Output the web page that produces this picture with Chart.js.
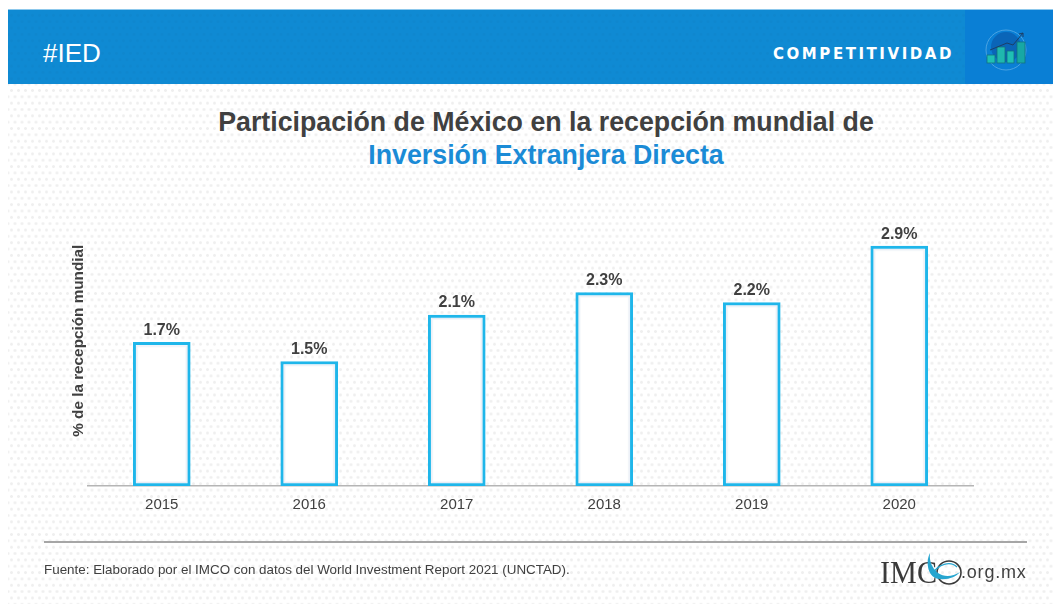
<!DOCTYPE html>
<html lang="es">
<head>
<meta charset="utf-8">
<script src="https://cdn.jsdelivr.net/npm/chart.js@4"></script>
<style>
html,body{margin:0;padding:0;background:#fff;width:1053px;height:604px;overflow:hidden;font-family:"Liberation Sans",Arial,sans-serif}
#bg{position:absolute;left:8px;top:9px;width:1045px;height:595px;background-color:#fff;
background-image:radial-gradient(circle,#efefef 1.1px,transparent 1.7px),radial-gradient(circle,#efefef 1.1px,transparent 1.7px);
background-size:7px 12.7px;background-position:0 -1px,3.5px 5.3px}
#hdr{position:absolute;left:8px;top:9px;width:1045px;height:75px;background:#0f8ad3;border-top:1px solid #8cc8ec;box-sizing:border-box;
background-image:radial-gradient(circle,rgba(0,0,0,.025) 1.1px,transparent 1.7px),radial-gradient(circle,rgba(0,0,0,.025) 1.1px,transparent 1.7px);
background-size:7px 12.7px;background-position:0 -1px,3.5px 5.3px}
#blk{position:absolute;left:965px;top:10px;width:88px;height:74px;background:#0a7fd5}
.t{position:absolute;white-space:nowrap}
#tag{left:43px;top:38px;font-size:26px;line-height:30px;color:#fff}
#comp{left:773px;top:44px;font:700 15px/20px "DejaVu Sans",sans-serif;letter-spacing:2.55px;color:#fff}
#t1,#t2{left:19.5px;width:1053px;text-align:center;font-weight:700;font-size:26.75px;line-height:32px}
#t1{top:106px;color:#404040}
#t2{top:139px;color:#1b8bd6}
#src{left:44px;top:562px;font-size:13.4px;line-height:16px;color:#404040}
#rule{position:absolute;left:44px;top:541px;width:983px;height:2px;background:#a6a6a6}
#chart{position:absolute;left:0;top:0}
#icon{position:absolute;left:983px;top:28px}
#logo{position:absolute;left:878px;top:552px}
</style>
</head>
<body>
<div id="bg"></div>
<div id="hdr"></div>
<div id="blk"></div>
<div class="t" id="tag">#IED</div>
<div class="t" id="comp">COMPETITIVIDAD</div>
<svg id="icon" width="46" height="46" viewBox="0 0 46 46">
<circle cx="23" cy="22" r="20" fill="none" stroke="#4aa3e2" stroke-width="1"/>
<circle cx="23" cy="19" r="15" fill="#0a65b8"/>
<g stroke="#13707f" stroke-width=".8">
<rect x="4" y="27" width="8" height="8" fill="#1fc0b4"/><rect x="14" y="19" width="8" height="16" fill="#1fb8ae"/>
<rect x="24" y="23" width="7" height="12" fill="#1fc0b4"/><rect x="34" y="14" width="8" height="21" fill="#17a8a4"/>
</g>
<path d="M7 22 L24 15 L30 17 L40 5 M36 6 L40 5 L40 9" fill="none" stroke="#1d3f66" stroke-width="1"/>
</svg>
<div class="t" id="t1">Participación de México en la recepción mundial de</div>
<div class="t" id="t2">Inversión Extranjera Directa</div>
<canvas id="chart" width="1053" height="604"></canvas>
<div id="rule"></div>
<div class="t" id="src">Fuente: Elaborado por el IMCO con datos del World Investment Report 2021 (UNCTAD).</div>
<svg id="logo" width="160" height="40" viewBox="0 0 160 40">
<text x="2" y="31" font-family="Liberation Serif" font-size="32" fill="#3a3a3a" textLength="57" lengthAdjust="spacingAndGlyphs">IMC</text>
<ellipse cx="71" cy="20.5" rx="12" ry="11.5" fill="none" stroke="#3a3a3a" stroke-width="1.6"/>
<path d="M52 1 C47 10 50 27 62 27 C70 28 78 25 82 20 C74 25 66 25 60 21 C54 16 51 9 52 1Z" fill="#26a5cf"/>
<path d="M55 21 C60 13 72 8 79 15" fill="none" stroke="#26a5cf" stroke-width="1.3"/>
<text x="83" y="26" font-family="Liberation Sans" font-size="18" letter-spacing=".8" fill="#404040">.org.mx</text>
</svg>
<script>
const categories = ["2015", "2016", "2017", "2018", "2019", "2020"];
const shareValues = [1.73, 1.5, 2.06, 2.33, 2.21, 2.89];
const yAxisTitle = "% de la recepción mundial";

const barDetails = {
  id: "barDetails",
  afterDatasetsDraw(chart) {
    const ctx = chart.ctx;
    const meta = chart.getDatasetMeta(0);
    ctx.save();
    meta.data.forEach((bar) => {
      const left = bar.x - bar.width / 2 + 3;
      const top = bar.y + 3;
      const w = bar.width - 6;
      const h = bar.base - bar.y - 6;
      ctx.strokeStyle = "rgba(150,175,215,0.22)";
      ctx.lineWidth = 1;
      ctx.strokeRect(left + 0.5, top + 0.5, w - 1, h - 1);
      ctx.strokeStyle = "rgba(150,175,215,0.09)";
      ctx.strokeRect(left + 1.5, top + 1.5, w - 3, h - 3);
    });
    ctx.font = "700 16px 'Liberation Sans'";
    ctx.fillStyle = "#404040";
    ctx.textAlign = "center";
    ctx.textBaseline = "middle";
    meta.data.forEach((bar, i) => {
      ctx.fillText(shareValues[i].toFixed(1) + "%", bar.x, bar.y - 12);
    });
    ctx.restore();
  }
};

new Chart(document.getElementById("chart"), {
  type: "bar",
  data: {
    labels: categories,
    datasets: [{
      data: shareValues,
      backgroundColor: "#ffffff",
      borderColor: "#1fb6ea",
      borderWidth: 3,
      borderSkipped: false,
      barThickness: 57
    }]
  },
  plugins: [barDetails],
  options: {
    responsive: false,
    animation: false,
    layout: { padding: { left: 70, right: 80, top: 195.5, bottom: 0 } },
    plugins: { legend: { display: false }, tooltip: { enabled: false }, title: { display: false } },
    scales: {
      x: {
        grid: { display: false, drawTicks: false },
        border: { color: "#b5b5b5", width: 1.5 },
        ticks: { color: "#404040", font: { family: "Liberation Sans", size: 15 }, padding: 10, maxRotation: 0 },
        afterFit(s) { s.height = 118; }
      },
      y: {
        min: 0,
        max: 3.5,
        grid: { display: false, drawTicks: false },
        border: { display: false },
        ticks: { display: false },
        title: {
          display: true,
          text: yAxisTitle,
          color: "#404040",
          font: { family: "Liberation Sans", size: 15.3, weight: "700" },
          padding: 0
        },
        afterFit(s) { s.width = 18; }
      }
    }
  }
});
</script>
</body>
</html>
